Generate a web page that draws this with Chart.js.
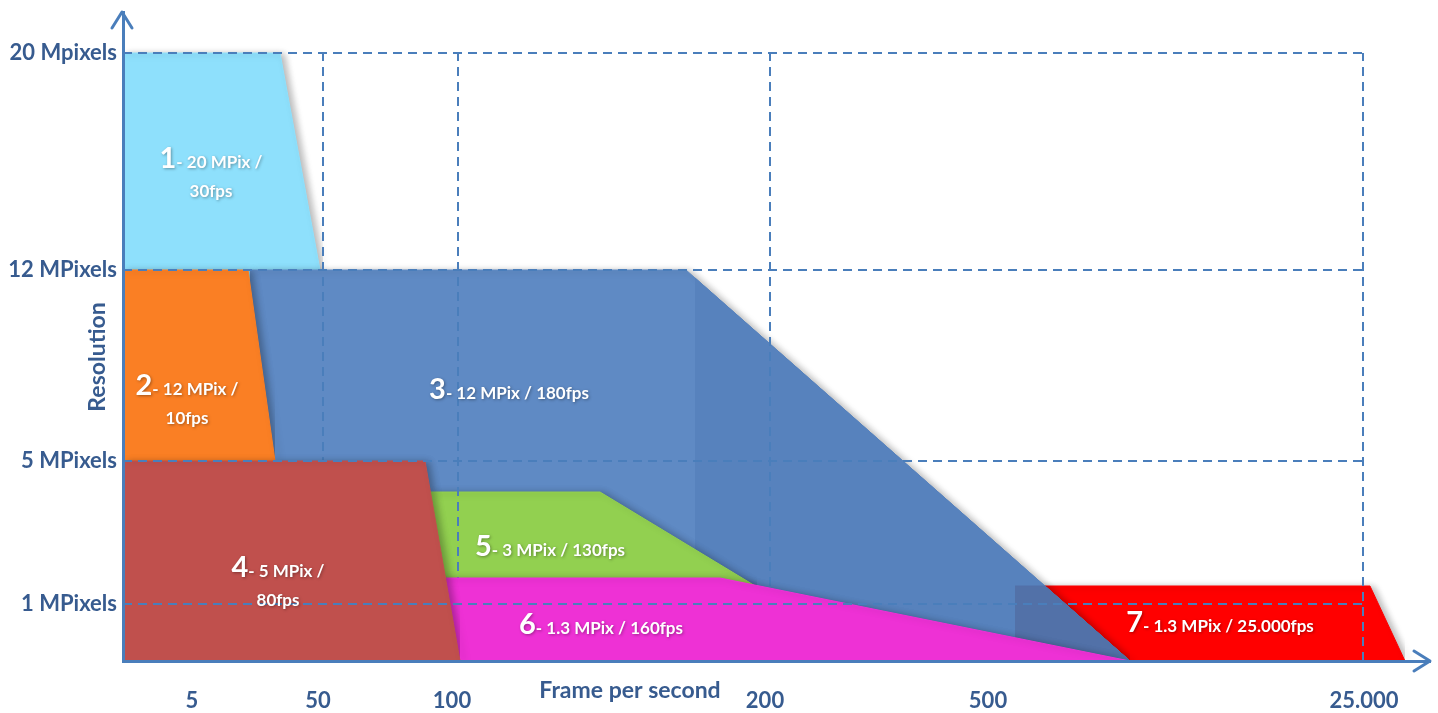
<!DOCTYPE html>
<html lang="en">
<head>
  <meta charset="UTF-8">
  <script src="https://cdn.jsdelivr.net/npm/chart.js@4.4.0/dist/chart.umd.min.js"></script>
  <title>Resolution vs frame per second</title>
  <style>
    html, body { margin: 0; padding: 0; background: #fff; }
  </style>
</head>
<body>
  <canvas id="myChart" width="1438" height="713"></canvas>
  <script>
    // axis ticks (positions along the schematic axes)
    const fpsLabels = ['5', '50', '100', '200', '500', '25.000'];
    const fpsTickPos = [6.9, 19.5, 32.9, 64.2, 86.5, 124.1];
    const resLabels = ['20 Mpixels', '12 MPixels', '5 MPixels', '1 MPixels'];
    const resTickPos = [60.8, 39.1, 20.0, 5.7];
    const gridX = [20.0, 33.5, 64.7, 124.0];

    // camera areas, outline points [fps position, resolution position]
    const cam1 = [[0, 60.8], [15.7, 60.8], [19.7, 39.1], [20.0, 34.6]];
    const cam2 = [[0, 39.1], [12.5, 39.1], [15.2, 20.0]];
    const cam3 = [[12.7, 39.1], [56.3, 39.1], [100.7, 0]];
    const cam3Right = [[57.2, 38.3], [100.7, 0]];
    const cam3OverCam7 = [[89.2, 7.5], [92.2, 7.5], [100.7, 0]];
    const cam4 = [[0, 20.0], [30.2, 20.0], [33.7, 0]];
    const cam5 = [[30.7, 16.9], [47.7, 16.9], [63.4, 7.4]];
    const cam6 = [[29.7, 8.3], [59.7, 8.3], [100.7, 0]];
    const cam7 = [[89.0, 7.5], [124.7, 7.5], [128.2, 0]];

    const camNum = ['1', '2', '3', '4', '5', '6', '7'];
    const camText = ['- 20 MPix /', '- 12 MPix /', '- 12 MPix / 180fps', '- 5 MPix /',
      '- 3 MPix / 130fps', '- 1.3 MPix / 160fps', '- 1.3 MPix / 25.000fps'];
    const camText2 = ['30fps', '10fps', '', '80fps', '', '', ''];
    const camTextAt = [[8.8, 50.3], [6.4, 27.6], [38.6, 27.2], [15.5, 9.4], [42.7, 11.5], [47.8, 3.7], [109.7, 3.9]];

    const axisColor = '#4A7EBB';
    const textColor = '#375B8F';
    const font = 'Lato';

    const toXY = pts => pts.map(p => ({ x: p[0], y: p[1] }));

    function area(pts, color, order) {
      return {
        data: toXY(pts), backgroundColor: color, borderColor: color, borderWidth: 1,
        fill: 'origin', pointRadius: 0, order: order
      };
    }
    function dash(pts) {
      return {
        data: toXY(pts), borderColor: axisColor, borderWidth: 2, borderDash: [9, 6],
        fill: false, pointRadius: 0, isGrid: true
      };
    }

    const datasets = [
      area(cam7, '#FF0000', 70),
      area(cam1, '#8EE0FC', 60),
      area(cam3, '#5F8AC4', 50),
      Object.assign(area(cam3Right, '#5782BD', 49), { noShadow: true }),
      Object.assign(area(cam3OverCam7, '#5271A8', 48), { noShadow: true }),
      area(cam2, '#FA7F24', 40),
      area(cam5, '#92D050', 30),
      area(cam6, '#EE31D5', 20),
      area(cam4, '#C0504D', 10)
    ];
    gridX.forEach(u => datasets.push(Object.assign(dash([[u, 0], [u, resTickPos[0]]]), { order: 25 })));
    resTickPos.forEach(v => datasets.push(Object.assign(dash([[0, v], [gridX[3], v]]), { order: 0 })));

    function setShadow(ctx, on) {
      ctx.shadowColor = on ? 'rgba(0,0,0,0.28)' : 'rgba(0,0,0,0)';
      ctx.shadowBlur = on ? 7 : 0;
      ctx.shadowOffsetX = on ? 4 : 0;
      ctx.shadowOffsetY = on ? 1 : 0;
    }

    // shadows on the filled areas only; the filler draws each fill before this
    // plugin's beforeDatasetDraw, so the state is set for the next dataset
    const shadowPlugin = {
      id: 'shapeShadow',
      beforeDatasetsDraw(chart) { chart.ctx.save(); setShadow(chart.ctx, true); },
      beforeDatasetDraw(chart, args) {
        if (chart.data.datasets[args.index].isGrid) setShadow(chart.ctx, false);
      },
      afterDatasetDraw(chart, args) {
        const metas = chart.getSortedVisibleDatasetMetas();
        const pos = metas.findIndex(m => m.index === args.index);
        const next = pos > 0 ? chart.data.datasets[metas[pos - 1].index] : null;
        setShadow(chart.ctx, !(next && next.noShadow));
      },
      afterDatasetsDraw(chart) { chart.ctx.restore(); }
    };

    const notesPlugin = {
      id: 'notes',
      afterDatasetsDraw(chart) {
        const { ctx, scales: { x, y } } = chart;
        ctx.save();
        ctx.fillStyle = '#fff';
        ctx.shadowColor = 'rgba(0,0,0,0.35)';
        ctx.shadowBlur = 3;
        ctx.shadowOffsetX = 1;
        ctx.shadowOffsetY = 1;
        ctx.textBaseline = 'alphabetic';
        camNum.forEach((n, i) => {
          const cx = x.getPixelForValue(camTextAt[i][0]);
          const cy = y.getPixelForValue(camTextAt[i][1]) + 10;
          ctx.font = 'bold 29px ' + font;
          const w1 = ctx.measureText(n).width;
          ctx.font = 'bold 17px ' + font;
          const w2 = ctx.measureText(camText[i]).width;
          const left = cx - (w1 + w2) / 2;
          ctx.textAlign = 'left';
          ctx.font = 'bold 29px ' + font;
          ctx.fillText(n, left, cy);
          ctx.font = 'bold 17px ' + font;
          ctx.fillText(camText[i], left + w1, cy);
          if (camText2[i]) {
            ctx.textAlign = 'center';
            ctx.fillText(camText2[i], cx, cy + 29);
          }
        });
        ctx.restore();
      }
    };

    const axisPlugin = {
      id: 'axisDecor',
      afterDraw(chart) {
        const { ctx, chartArea: a } = chart;
        ctx.save();
        ctx.strokeStyle = axisColor;
        ctx.lineWidth = 3;
        ctx.lineCap = 'round';
        ctx.lineJoin = 'round';
        ctx.beginPath();
        ctx.moveTo(a.left - 11, a.top + 16);
        ctx.lineTo(a.left - 1, a.top);
        ctx.lineTo(a.left + 9, a.top + 16);
        ctx.stroke();
        ctx.beginPath();
        ctx.moveTo(a.right - 16, a.bottom - 10);
        ctx.lineTo(a.right, a.bottom);
        ctx.lineTo(a.right - 16, a.bottom + 10);
        ctx.stroke();

        ctx.fillStyle = textColor;
        ctx.font = 'bold 23px ' + font;
        ctx.textAlign = 'center';
        ctx.textBaseline = 'middle';
        ctx.fillText('Frame per second', a.left + 507, a.bottom + 30);
        ctx.translate(a.left - 25, a.top + 345);
        ctx.rotate(-Math.PI / 2);
        ctx.fillText('Resolution', 0, 0);
        ctx.restore();
      }
    };

    const ctx = document.getElementById('myChart').getContext('2d');
    const myChart = new Chart(ctx, {
      type: 'line',
      data: { datasets: datasets },
      plugins: [shadowPlugin, notesPlugin, axisPlugin],
      options: {
        responsive: false,
        animation: false,
        layout: { padding: { top: 12, right: 8, left: 0, bottom: 0 } },
        elements: { line: { tension: 0 } },
        plugins: {
          legend: { display: false },
          tooltip: { enabled: false }
        },
        scales: {
          x: {
            type: 'linear',
            min: 0,
            max: 130.7,
            grid: { display: false, drawTicks: false },
            border: { display: true, color: axisColor, width: 3, z: 1 },
            afterBuildTicks: s => { s.ticks = fpsTickPos.map(v => ({ value: v })); },
            afterFit: s => { s.height = 52; s.paddingLeft = 0; s.paddingRight = 0; },
            ticks: {
              autoSkip: false,
              maxRotation: 0,
              padding: 27,
              color: textColor,
              font: { family: font, size: 22, weight: 'bold' },
              callback: (v, i) => fpsLabels[i]
            }
          },
          y: {
            type: 'linear',
            min: 0,
            max: 64.9,
            grid: { display: false, drawTicks: false },
            border: { display: true, color: axisColor, width: 3, z: 1 },
            afterBuildTicks: s => { s.ticks = resTickPos.map(v => ({ value: v })); },
            afterFit: s => { s.width = 123; s.paddingTop = 0; s.paddingBottom = 0; },
            ticks: {
              autoSkip: false,
              padding: 6,
              color: textColor,
              font: { family: font, size: 22, weight: 'bold' },
              callback: (v, i) => resLabels[i]
            }
          }
        }
      }
    });
  </script>
</body>
</html>
